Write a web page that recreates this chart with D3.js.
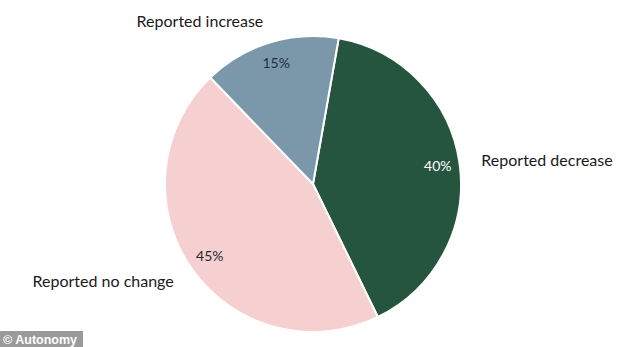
<!DOCTYPE html>
<html><head><meta charset="utf-8">
<script src="https://cdn.jsdelivr.net/npm/d3@7"></script>
<style>body{margin:0;background:#fff;}svg{display:block;}</style>
</head><body>
<script>
const categories = ["Reported decrease", "Reported no change", "Reported increase"];
const values = [40, 45, 15];
const valueLabels = ["40%", "45%", "15%"];
const colors = ["#25553f", "#f6cfd0", "#7b98aa"];
const labelColors = ["#ffffff", "#2a2a2a", "#1f2f3f"];

const W = 627, H = 347, cx = 313, cy = 184, R = 148;
const svg = d3.select("body").append("svg").attr("width", W).attr("height", H);
const g = svg.append("g").attr("transform", `translate(${cx},${cy})`);
const startA = 10 * Math.PI / 180;
const pie = d3.pie().sort(null).value(d => d).startAngle(startA).endAngle(startA + 2 * Math.PI);
const arcs = pie(values);
const arc = d3.arc().innerRadius(0).outerRadius(R);
const labelArc = d3.arc().innerRadius(126).outerRadius(126);
const outerArc = d3.arc().innerRadius(170).outerRadius(170);

g.selectAll("path").data(arcs).join("path")
  .attr("d", arc).attr("fill", (d, i) => colors[i])
  .attr("stroke", "#fff").attr("stroke-width", 2);

const font = "Lato, 'Open Sans', sans-serif";
g.selectAll("text.pct").data(arcs).join("text").attr("class", "pct")
  .attr("transform", d => `translate(${labelArc.centroid(d)})`)
  .attr("text-anchor", "middle").attr("dy", "0.35em")
  .attr("font-family", font).attr("font-size", 14)
  .attr("fill", (d, i) => labelColors[i])
  .text((d, i) => valueLabels[i]);

g.selectAll("text.cat").data(arcs).join("text").attr("class", "cat")
  .attr("transform", d => `translate(${outerArc.centroid(d)})`)
  .attr("text-anchor", d => { const m = (d.startAngle + d.endAngle) / 2 % (2 * Math.PI); return m < Math.PI ? "start" : "end"; })
  .attr("dy", "0.35em")
  .attr("font-family", font).attr("font-size", 16)
  .attr("fill", "#1a1a1a")
  .text((d, i) => categories[i]);

// watermark
const wm = svg.append("g").attr("transform", "translate(0,331)");
wm.append("rect").attr("width", 83).attr("height", 16).attr("fill", "#9a9a9a");
wm.append("text").attr("x", 3).attr("y", 12.5).attr("font-family", "Liberation Sans, Arial, sans-serif")
  .attr("font-weight", "bold").attr("font-size", 12.5).attr("fill", "#fff").text("© Autonomy");
</script>
</body></html>
